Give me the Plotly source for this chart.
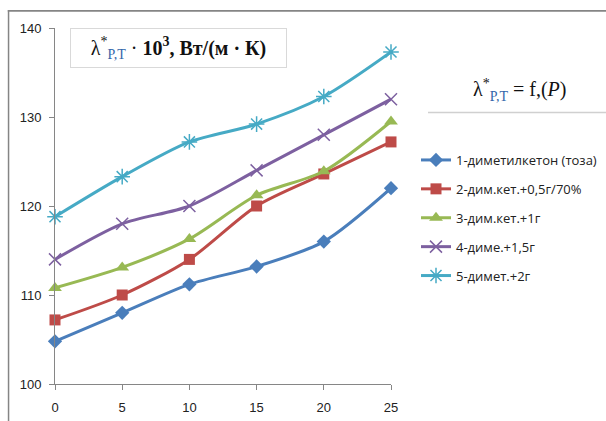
import plotly.graph_objects as go

# Pressure points (x axis) and thermal conductivity series
pressure = [0, 5, 10, 15, 20, 25]
s1 = [104.8, 108.0, 111.2, 113.2, 116.0, 122.0]
s2 = [107.2, 110.0, 114.0, 120.0, 123.6, 127.2]
s3 = [110.8, 113.1, 116.3, 121.2, 123.9, 129.5]
s4 = [114.0, 118.0, 120.0, 124.0, 128.0, 132.0]
s5 = [118.8, 123.3, 127.2, 129.2, 132.3, 137.3]

names = [
    "1-диметилкетон (тоза)",
    "2-дим.кет.+0,5г/70%",
    "3-дим.кет.+1г",
    "4-диме.+1,5г",
    "5-димет.+2г",
]
x_ticks = [0, 5, 10, 15, 20, 25]
y_ticks = [100, 110, 120, 130, 140]

colors = ["#4A7EBB", "#BE4B48", "#98B954", "#7D60A0", "#46AAC5"]
markers = [
    dict(symbol="diamond", size=11),
    dict(symbol="square", size=11),
    dict(symbol="triangle-up", size=12),
    dict(symbol="x-thin-open", size=12, line=dict(width=1.5)),
    dict(symbol="asterisk-open", size=13, line=dict(width=1.5)),
]

W, H = 606, 421
L, R, T, B = 55, 391, 28, 384  # plot area in pixels


def px(x):
    return (x - L) / (R - L)


def py(y):
    return (B - y) / (B - T)


fig = go.Figure()
for i, (name, ys) in enumerate(zip(names, [s1, s2, s3, s4, s5])):
    m = dict(markers[i])
    m["color"] = colors[i]
    if "line" in m:
        m["line"] = dict(m["line"], color=colors[i])
    fig.add_trace(go.Scatter(
        x=pressure, y=ys, name=name, mode="lines+markers",
        line=dict(color=colors[i], width=3, shape="spline", smoothing=0.8),
        marker=m, legendgroup=f"g{i}", cliponaxis=False,
    ))

axis_common = dict(
    showgrid=False, zeroline=False, showline=True, linecolor="#868686",
    linewidth=1, ticks="outside", tickcolor="#868686", ticklen=5,
    automargin=False,
    tickfont=dict(family="Liberation Sans, Arial", size=13, color="#222222"),
)

fig.update_layout(
    width=W, height=H,
    margin=dict(l=L, r=W - R, t=T, b=H - B),
    paper_bgcolor="white", plot_bgcolor="white",
    xaxis=dict(range=[0, 25], tickvals=x_ticks, ticklabelstandoff=6, **axis_common),
    yaxis=dict(range=[100, 140], tickvals=y_ticks, ticklabelstandoff=5, **axis_common),
    showlegend=True,
    legend=dict(
        xref="container", yref="container",
        x=416 / W, y=1 - 145 / H, xanchor="left", yanchor="top",
        font=dict(family="Open Sans, Liberation Sans", size=13, color="#222222"),
        tracegroupgap=9, itemwidth=30, bgcolor="rgba(0,0,0,0)",
    ),
)

# Outer chart frame: left edge and top edge (thin filled strips)
fig.add_shape(type="rect", xref="paper", yref="paper", layer="above",
              x0=px(7.8), x1=px(9.3), y0=py(450), y1=py(10),
              fillcolor="#858585", line=dict(width=0))
fig.add_shape(type="rect", xref="paper", yref="paper", layer="above",
              x0=px(7.8), x1=px(606), y0=py(11.8), y1=py(10),
              fillcolor="#858585", line=dict(width=0))

# Units box
fig.add_annotation(
    xref="paper", yref="paper", x=px(178), y=py(47.5),
    xanchor="center", yanchor="middle",
    text="λ<sup>*</sup><sub><span style='color:#3366aa'>P,T</span></sub> · <b>10<sup>3</sup>, Вт/(м · К)</b>",
    showarrow=False, font=dict(family="Liberation Serif, DejaVu Serif", size=20, color="#111111"),
    bordercolor="#d9d9d9", borderwidth=1, borderpad=4, width=207, height=30,
    bgcolor="white",
)

# Function label with underline
fig.add_annotation(
    xref="paper", yref="paper", x=px(520), y=py(90),
    xanchor="center", yanchor="middle",
    text="λ<sup>*</sup><sub><span style='color:#3366aa'>P,T</span></sub> = f,(<i>P</i>)",
    showarrow=False, font=dict(family="Liberation Serif, DejaVu Serif", size=20, color="#111111"),
)
fig.add_shape(type="line", xref="paper", yref="paper",
              x0=px(428), x1=px(606), y0=py(112.5), y1=py(112.5),
              line=dict(color="#d0d0d0", width=1.5))

fig.write_html("out.html", config={"displayModeBar": False})
